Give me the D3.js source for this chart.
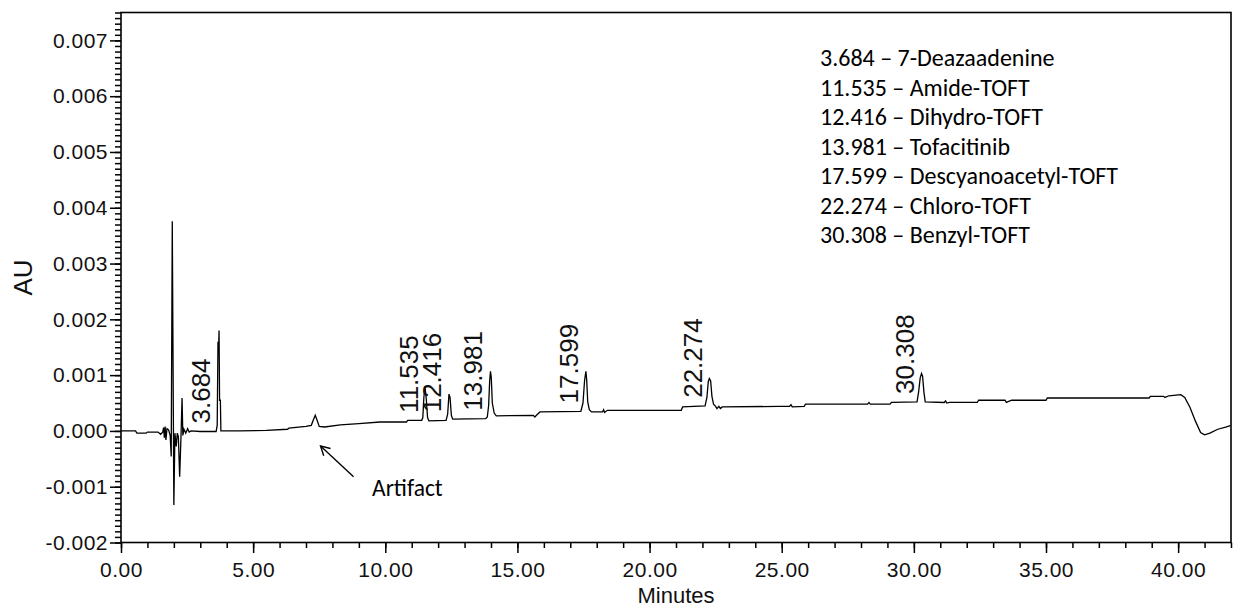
<!DOCTYPE html>
<html>
<head>
<meta charset="utf-8">
<script src="https://cdn.jsdelivr.net/npm/d3@7"></script>
<style>
  body { margin: 0; background: #fff; }
  svg { display: block; }
</style>
</head>
<body>
<svg id="view"></svg>
<script>

// chromatogram trace (minutes / AU)
const traceTime = [
  0.00, 0.55, 0.60, 0.95, 1.00, 1.40, 1.50, 1.58, 1.61, 1.64, 1.67, 1.70, 1.74, 1.80, 1.86, 1.90,
  1.94, 2.00, 2.04, 2.09, 2.13, 2.17, 2.22, 2.27, 2.31, 2.34, 2.38, 2.45, 2.52, 2.58, 2.65,
  3.00, 3.60, 3.64, 3.67, 3.69, 3.71, 3.73, 3.76, 3.78, 4.50, 5.50, 6.30, 6.35,
  7.00, 7.20, 7.28, 7.35, 7.42, 7.50, 7.70, 8.30, 9.00, 9.80, 10.80, 10.85,
  11.38, 11.42, 11.46, 11.50, 11.55, 11.60, 11.65, 12.30, 12.36, 12.41, 12.45, 12.50, 12.55,
  13.80, 13.86, 13.91, 13.95, 13.98, 14.01, 14.05, 14.12, 14.20, 15.60, 15.66, 15.72, 15.85,
  17.40, 17.48, 17.54, 17.59, 17.62, 17.66, 17.72, 17.80, 18.22, 18.26, 18.30, 18.40,
  21.20, 21.25, 22.10, 22.17, 22.22, 22.26, 22.31, 22.36, 22.42, 22.50, 22.55, 22.62, 22.68, 22.75,
  24.90, 25.30, 25.35, 25.40, 25.85, 25.90, 28.25, 28.30, 28.35, 29.10, 29.15,
  30.12, 30.18, 30.24, 30.29, 30.33, 30.38, 30.43, 31.15, 31.20, 31.25, 31.35,
  32.40, 32.45, 33.45, 33.50, 33.70, 35.00, 35.05, 38.90, 38.95, 39.45, 39.50, 39.65,
  40.10, 40.25, 40.45, 40.65, 40.85, 41.00, 41.20, 41.50, 41.80, 42.00
];
const traceAU = [
  0.00000, 0.00000, -0.00004, -0.00004, -0.00002, -0.00002, -0.00006, -0.00002, 0.00006, -0.00012, 0.00008, -0.00016, 0.00004, 0.00002, -0.00008, -0.00046,
  0.00376, -0.00133, -0.00004, -0.00028, -0.00004, -0.00010, -0.00082, -0.00010, 0.00059, -0.00008, 0.00003, -0.00004, 0.00004, -0.00002, 0.00000,
  -0.00001, -0.00001, 0.00010, 0.00160, 0.00140, 0.00180, 0.00055, 0.00055, 0.00000, 0.00000, 0.00001, 0.00003, 0.00005,
  0.00008, 0.00010, 0.00020, 0.00028, 0.00019, 0.00008, 0.00007, 0.00011, 0.00013, 0.00016, 0.00016, 0.00019,
  0.00019, 0.00024, 0.00060, 0.00080, 0.00058, 0.00024, 0.00018, 0.00019, 0.00030, 0.00066, 0.00060, 0.00028, 0.00021,
  0.00022, 0.00025, 0.00045, 0.00090, 0.00107, 0.00096, 0.00050, 0.00032, 0.00027, 0.00028, 0.00025, 0.00028, 0.00034,
  0.00035, 0.00050, 0.00090, 0.00107, 0.00092, 0.00052, 0.00038, 0.00034, 0.00034, 0.00038, 0.00033, 0.00037,
  0.00037, 0.00043, 0.00045, 0.00060, 0.00088, 0.00094, 0.00090, 0.00062, 0.00048, 0.00044, 0.00040, 0.00044, 0.00040, 0.00043,
  0.00044, 0.00044, 0.00047, 0.00043, 0.00044, 0.00048, 0.00048, 0.00051, 0.00048, 0.00048, 0.00051,
  0.00052, 0.00070, 0.00095, 0.00103, 0.00098, 0.00070, 0.00052, 0.00051, 0.00054, 0.00050, 0.00051,
  0.00051, 0.00055, 0.00055, 0.00051, 0.00055, 0.00055, 0.00059, 0.00059, 0.00062, 0.00062, 0.00060, 0.00063,
  0.00065, 0.00060, 0.00042, 0.00018, -0.00003, -0.00007, -0.00004, 0.00003, 0.00007, 0.00010
];

// labelled peaks
const peakTimes = [3.684, 11.535, 12.416, 13.981, 17.599, 22.274, 30.308];
const peakNames = ['7-Deazaadenine', 'Amide-TOFT', 'Dihydro-TOFT', 'Tofacitinib',
                   'Descyanoacetyl-TOFT', 'Chloro-TOFT', 'Benzyl-TOFT'];

// artifact annotation (arrow from text to bump)
const artifactLabel = 'Artifact';
const artifactArrow = [[8.8, -0.00082], [7.55, -0.00027]];
const artifactText = [9.5, -0.00117];

const xDomain = [0, 42];
const yDomain = [-0.002, 0.0075];
const xMajor = [0, 5, 10, 15, 20, 25, 30, 35, 40];
const xMinor = d3.range(0, 43);
const yMajor = d3.range(-2, 8).map(i => i / 1000);
const yMinor = d3.range(-20, 76).map(i => i / 10000);

const W = 1235, H = 608;
const margin = {top: 12.5, right: 4, bottom: 65.5, left: 121};
const width = W - margin.left - margin.right;
const height = H - margin.top - margin.bottom;

const tickFont = '"Liberation Sans", Arial, sans-serif';
const noteFont = 'Carlito, Calibri, Lato, sans-serif';

const svg = d3.select('#view')
    .attr('width', W)
    .attr('height', H);

const g = svg.append('g')
    .attr('transform', `translate(${margin.left},${margin.top})`);

const x = d3.scaleLinear().domain(xDomain).range([0, width]);
const y = d3.scaleLinear().domain(yDomain).range([height, 0]);

const fmtY = d => d3.format('.3f')(d).replace('\u2212', '-');

// axes: minor ticks first, then major with labels
const styleAxis = sel => {
    sel.select('.domain').remove();
    sel.selectAll('line').attr('stroke', '#000').attr('stroke-width', 1.5);
    sel.selectAll('text')
        .attr('fill', '#111')
        .style('font-family', tickFont)
        .style('font-size', '21px')
        .style('letter-spacing', '0.5px');
};

g.append('g').attr('transform', `translate(0,${height})`)
    .call(d3.axisBottom(x).tickValues(xMinor).tickSize(5.5).tickFormat(''))
    .call(styleAxis);
g.append('g').attr('transform', `translate(0,${height})`)
    .call(d3.axisBottom(x).tickValues(xMajor).tickSize(10.5).tickPadding(9).tickFormat(d3.format('.2f')))
    .call(styleAxis);

g.append('g')
    .call(d3.axisLeft(y).tickValues(yMinor).tickSize(6).tickFormat(''))
    .call(styleAxis);
g.append('g')
    .call(d3.axisLeft(y).tickValues(yMajor).tickSize(11).tickPadding(2).tickFormat(fmtY))
    .call(styleAxis);

// frame
g.append('rect')
    .attr('x', 0).attr('y', 0)
    .attr('width', width).attr('height', height)
    .attr('fill', 'none')
    .attr('stroke', '#000')
    .attr('stroke-width', 1.6);

// axis titles
svg.append('text')
    .attr('transform', `translate(32,${margin.top + height / 2}) rotate(-90)`)
    .attr('text-anchor', 'middle')
    .style('font-family', tickFont)
    .style('font-size', '26px')
    .attr('fill', '#111')
    .text('AU');

svg.append('text')
    .attr('x', margin.left + width / 2)
    .attr('y', 603)
    .attr('text-anchor', 'middle')
    .style('font-family', tickFont)
    .style('font-size', '22px')
    .attr('fill', '#111')
    .text('Minutes');

// trace
const points = traceTime.map((t, i) => [t, traceAU[i]]);
const line = d3.line().x(d => x(d[0])).y(d => y(d[1]));

g.append('path')
    .datum(points)
    .attr('fill', 'none')
    .attr('stroke', '#000')
    .attr('stroke-width', 1.3)
    .attr('d', line);

// peak retention time labels, rotated, sitting on the local baseline
const baseAt = rt => d3.min(points.filter(p => Math.abs(p[0] - rt) < 0.2), p => p[1]);

g.selectAll('.rt')
    .data(peakTimes)
    .join('text')
    .attr('class', 'rt')
    .attr('transform', d => `translate(${x(d) - 8},${y(baseAt(d)) - 8}) rotate(-90)`)
    .attr('text-anchor', 'start')
    .style('font-family', tickFont)
    .style('font-size', '26px')
    .attr('fill', '#111')
    .text(d => d.toFixed(3));

// legend of peak names (one text block, one line per peak)
svg.append('text')
    .attr('transform', 'translate(820,66)')
    .style('font-family', noteFont)
    .style('font-size', '24px')
    .attr('fill', '#000')
    .selectAll('tspan')
    .data(peakTimes)
    .join('tspan')
    .attr('x', 0)
    .attr('y', (d, i) => i * 29.5)
    .text((d, i) => `${d.toFixed(3)} \u2013 ${peakNames[i]}`);

// artifact arrow
svg.append('defs').append('marker')
    .attr('id', 'head')
    .attr('viewBox', '-1 -6 12 12')
    .attr('markerWidth', 12).attr('markerHeight', 12)
    .attr('markerUnits', 'userSpaceOnUse')
    .attr('refX', 9).attr('refY', 0)
    .attr('orient', 'auto')
    .append('path')
    .attr('d', 'M0,-5 L9,0 L0,5')
    .attr('fill', 'none')
    .attr('stroke', '#000')
    .attr('stroke-width', 1.4);

g.append('line')
    .attr('x1', x(artifactArrow[0][0])).attr('y1', y(artifactArrow[0][1]))
    .attr('x2', x(artifactArrow[1][0])).attr('y2', y(artifactArrow[1][1]))
    .attr('stroke', '#000')
    .attr('stroke-width', 1.4)
    .attr('marker-end', 'url(#head)');

g.append('text')
    .attr('x', x(artifactText[0]))
    .attr('y', y(artifactText[1]))
    .style('font-family', noteFont)
    .style('font-size', '23.5px')
    .attr('fill', '#000')
    .text(artifactLabel);

</script>
</body>
</html>
